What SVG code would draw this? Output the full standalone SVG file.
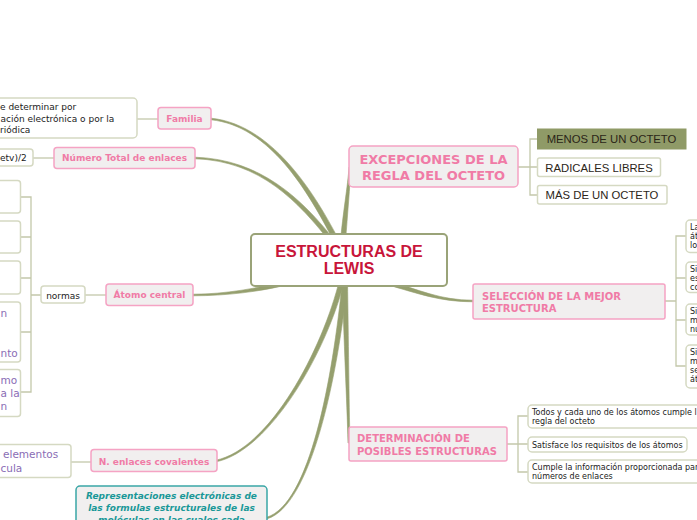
<svg xmlns="http://www.w3.org/2000/svg" width="697" height="520" viewBox="0 0 697 520">
<style>
.bg{fill:#ffffff}
.trunk{fill:#959f6e;stroke:#959f6e;stroke-width:0.6;stroke-linejoin:round}
.thin{fill:none;stroke:#c3c8aa;stroke-width:1.3}
.pink rect{fill:#f1efef;stroke:#f5a3c4;stroke-width:1.5}
.pink text{fill:#f07ba6;font-family:"DejaVu Sans",Verdana,sans-serif;font-weight:bold}
.leaf rect{fill:#ffffff;stroke:#d5d9c2;stroke-width:1.5}
.leaf text{fill:#222222;font-family:"DejaVu Sans",Verdana,sans-serif;font-size:8px}
.leaf text.f9{font-size:9px}
.purple text{fill:#8a6db5;font-size:10.5px}
.caps text{font-family:"Liberation Sans",Arial,sans-serif;font-size:11.3px;fill:#2b2518}
</style>
<rect class="bg" x="0" y="0" width="697" height="520"/>

<g id="connectors">
  <path class="trunk" d="M338.2,238.7 C312.2,188.7 270.1,124.2 211.1,118.2 L210.9,119.8 C269.9,125.8 307.9,191.3 333.9,241.3 Z"/>
  <path class="trunk" d="M334.7,240.5 C301.7,198.5 260,159.2 195,157.2 L195,158.8 C260,160.8 298.3,201.5 331.3,243.5 Z"/>
  <path class="trunk" d="M345.5,242 C347.5,215 350,185 351,167 L349,167 C348,185 342.5,215 340.5,242 Z"/>
  <path class="trunk" d="M289.5,280.1 C259.5,288.1 225,294.2 193,294.2 L193,295.8 C225,295.8 260.5,291.9 290.5,283.9 Z"/>
  <path class="trunk" d="M384.5,283.9 C419.5,293.9 440,301.8 473,301.8 L473,300.2 C440,300.2 420.6,290.1 385.6,280.1 Z"/>
  <path class="trunk" d="M347.5,280 C348.5,340 349,400 350,443 L348,443 C347,400 343.5,340 342.5,280 Z"/>
  <path class="trunk" d="M339.6,279.4 C322.6,349.4 269.8,449.2 215.8,460.2 L216.2,461.8 C270.2,450.8 327.4,350.6 344.4,280.6 Z"/>
  <path class="trunk" d="M342.5,279.7 C332.5,379.7 309.8,504.2 266.8,517.2 L267.2,518.8 C310.2,505.8 337.5,380.3 347.5,280.3 Z"/>
  <path class="thin" d="M137,119 H158"/>
  <path class="thin" d="M33,158 H54"/>
  <path class="thin" d="M85,295 H106"/>
  <path class="thin" d="M41,295 H31 M20,197 H31 V392 H20 M20,237 H31 M20,278 H31 M20,332 H31"/>
  <path class="thin" d="M71,462 H91"/>
  <path class="thin" d="M518,167 H530 M537,139 H530 V195 H537 M530,167 H537"/>
  <path class="thin" d="M665,301 H676 M686,236 H676 V366 H686 M676,278 H686 M676,320 H686"/>
  <path class="thin" d="M507,444 H518 M528,416 H518 V472 H528 M518,444 H528"/>
</g>

<g id="center">
  <rect x="251" y="234" width="196" height="52" rx="4" fill="#ffffff" stroke="#9aa378" stroke-width="2"/>
  <text x="349" y="257" text-anchor="middle" font-family="Liberation Sans, Arial, sans-serif" font-weight="bold" font-size="16" fill="#c8153a">ESTRUCTURAS DE</text>
  <text x="349" y="274" text-anchor="middle" font-family="Liberation Sans, Arial, sans-serif" font-weight="bold" font-size="16" fill="#c8153a">LEWIS</text>
</g>

<g id="familia" class="pink">
  <rect x="158" y="107.5" width="53" height="21.5" rx="3"/>
  <text x="184.5" y="122" text-anchor="middle" font-size="9">Familia</text>
</g>
<g id="familia-leaf" class="leaf">
  <rect x="-10" y="98" width="147" height="40" rx="4"/>
  <text class="f9" x="0" y="110">e determinar por</text>
  <text class="f9" x="0.5" y="122">ación electrónica o por la</text>
  <text class="f9" x="0" y="133">riódica</text>
</g>

<g id="numero-total" class="pink">
  <rect x="54" y="147.5" width="141" height="21" rx="3"/>
  <text x="124.5" y="161" text-anchor="middle" font-size="9">Número Total de enlaces</text>
</g>
<g id="numero-leaf" class="leaf">
  <rect x="-10" y="149" width="43" height="17" rx="3"/>
  <text class="f9" x="0" y="161">etv)/2</text>
</g>

<g id="atomo-central" class="pink">
  <rect x="106" y="284" width="87" height="21.5" rx="3"/>
  <text x="149.5" y="298" text-anchor="middle" font-size="9">Átomo central</text>
</g>
<g id="normas" class="leaf">
  <rect x="41" y="286" width="44" height="17" rx="3"/>
  <text class="f9" x="63" y="299" text-anchor="middle">normas</text>
</g>
<g id="norma-1" class="leaf"><rect x="-10" y="180.5" width="30.5" height="32.5" rx="3"/></g>
<g id="norma-2" class="leaf"><rect x="-10" y="221" width="30.5" height="32" rx="3"/></g>
<g id="norma-3" class="leaf"><rect x="-10" y="261" width="30.5" height="33" rx="3"/></g>
<g id="norma-4" class="leaf purple">
  <rect x="-10" y="302" width="30.5" height="60" rx="3"/>
  <text x="0.5" y="317">n</text>
  <text x="0.5" y="357">nto</text>
</g>
<g id="norma-5" class="leaf purple">
  <rect x="-10" y="369.5" width="30.5" height="47" rx="3"/>
  <text x="0.5" y="384">mo</text>
  <text x="0.5" y="397">a la</text>
  <text x="0.5" y="410">n</text>
</g>

<g id="n-enlaces" class="pink">
  <rect x="91" y="449.5" width="126" height="22" rx="3"/>
  <text x="154" y="465" text-anchor="middle" font-size="9">N. enlaces covalentes</text>
</g>
<g id="n-enlaces-leaf" class="leaf purple">
  <rect x="-10" y="444.5" width="81" height="33" rx="3"/>
  <text x="3" y="458">elementos</text>
  <text x="0.5" y="472">cula</text>
</g>

<g id="representaciones">
  <rect x="76" y="486" width="191" height="50" rx="4" fill="#f1efef" stroke="#3aa6a6" stroke-width="1.5"/>
  <text x="171.5" y="499" text-anchor="middle" font-family="DejaVu Sans, Verdana, sans-serif" font-weight="bold" font-style="italic" font-size="9" fill="#1a9898">Representaciones electrónicas de</text>
  <text x="171.5" y="511" text-anchor="middle" font-family="DejaVu Sans, Verdana, sans-serif" font-weight="bold" font-style="italic" font-size="9" fill="#1a9898">las formulas estructurales de las</text>
  <text x="171.5" y="523" text-anchor="middle" font-family="DejaVu Sans, Verdana, sans-serif" font-weight="bold" font-style="italic" font-size="9" fill="#1a9898">moléculas en las cuales cada</text>
</g>

<g id="excepciones" class="pink">
  <rect x="349" y="146" width="169" height="41" rx="4"/>
  <text x="433.5" y="164" text-anchor="middle" font-size="13">EXCEPCIONES DE LA</text>
  <text x="433.5" y="180" text-anchor="middle" font-size="13">REGLA DEL OCTETO</text>
</g>
<g id="menos-octeto" class="caps">
  <rect x="537.5" y="129" width="148.5" height="20" fill="#8f9a67" stroke="#8f9a67" stroke-width="1"/>
  <text x="611.5" y="143" text-anchor="middle">MENOS DE UN OCTETO</text>
</g>
<g id="radicales" class="leaf caps">
  <rect x="537.5" y="158" width="123" height="18.5" rx="2"/>
  <text x="599" y="172" text-anchor="middle">RADICALES LIBRES</text>
</g>
<g id="mas-octeto" class="leaf caps">
  <rect x="537.5" y="185.5" width="129.5" height="18.5" rx="2"/>
  <text x="602" y="199" text-anchor="middle">MÁS DE UN OCTETO</text>
</g>

<g id="seleccion" class="pink">
  <rect x="473" y="284" width="192" height="35" rx="2"/>
  <text x="482" y="300" font-size="10">SELECCIÓN DE LA MEJOR</text>
  <text x="482" y="312" font-size="10">ESTRUCTURA</text>
</g>
<g id="sel-1" class="leaf">
  <rect x="686" y="220" width="40" height="32.5" rx="4"/>
  <text x="690" y="230">La</text><text x="690" y="239">át</text><text x="690" y="248">lo</text>
</g>
<g id="sel-2" class="leaf">
  <rect x="686" y="262" width="40" height="30.5" rx="4"/>
  <text x="690" y="272">Si</text><text x="690" y="281">es</text><text x="690" y="290">co</text>
</g>
<g id="sel-3" class="leaf">
  <rect x="686" y="304" width="40" height="31" rx="4"/>
  <text x="690" y="314">Si</text><text x="690" y="323">m</text><text x="690" y="332">nú</text>
</g>
<g id="sel-4" class="leaf">
  <rect x="686" y="345" width="40" height="43" rx="4"/>
  <text x="690" y="355">Si</text><text x="690" y="364">m</text><text x="690" y="373">se</text><text x="690" y="382">át</text>
</g>

<g id="determinacion" class="pink">
  <rect x="349" y="427" width="158" height="34" rx="2"/>
  <text x="357" y="442" font-size="10">DETERMINACIÓN DE</text>
  <text x="357" y="454.5" font-size="10">POSIBLES ESTRUCTURAS</text>
</g>
<g id="det-1" class="leaf">
  <rect x="528" y="405" width="185" height="23" rx="4"/>
  <text x="532" y="414.5">Todos y cada uno de los átomos cumple l</text>
  <text x="532" y="424">regla del octeto</text>
</g>
<g id="det-2" class="leaf">
  <rect x="528" y="437" width="159" height="15" rx="4"/>
  <text x="532" y="447.5">Satisface los requisitos de los átomos</text>
</g>
<g id="det-3" class="leaf">
  <rect x="528" y="460" width="185" height="23" rx="4"/>
  <text x="532" y="469.5">Cumple la información proporcionada par</text>
  <text x="532" y="479">números de enlaces</text>
</g>
</svg>
